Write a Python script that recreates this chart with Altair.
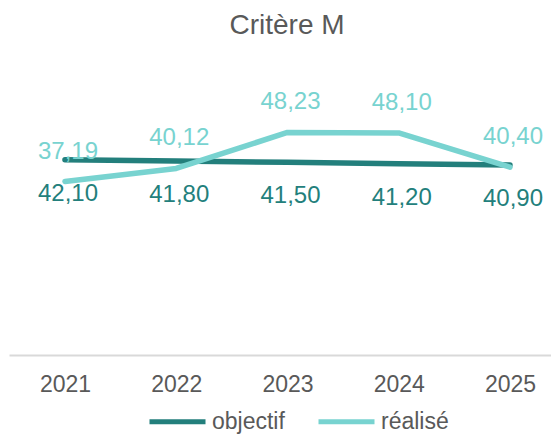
import altair as alt
import pandas as pd

years = ["2021", "2022", "2023", "2024", "2025"]
objectif = [42.10, 41.80, 41.50, 41.20, 40.90]
realise = [37.19, 40.12, 48.23, 48.10, 40.40]
series = ["objectif", "réalisé"]
colors = ["#237f7c", "#78d3d0"]

rows = []
for name, vals in zip(series, [objectif, realise]):
    for y, v in zip(years, vals):
        rows.append({"year": y, "value": v, "series": name,
                     "label": f"{v:.2f}".replace(".", ",")})
df = pd.DataFrame(rows)

FONT = "Liberation Sans"

x_enc = alt.X("year:O", sort=years,
              scale=alt.Scale(type="point", padding=0.436, align=0.577),
              axis=alt.Axis(title=None, labelAngle=0, labelFontSize=23,
                            labelColor="#595959", labelFont=FONT,
                            domainColor="#d9d9d9", domainWidth=2,
                            ticks=False, grid=False, offset=8, labelPadding=18))
y_enc = alt.Y("value:Q", scale=alt.Scale(domain=[0, 60]), axis=None)

base = alt.Chart(df)

lines = base.mark_line(strokeWidth=5.5, strokeCap="round", strokeJoin="round").encode(
    x=x_enc, y=y_enc,
    color=alt.Color("series:N",
                    scale=alt.Scale(domain=series, range=colors),
                    legend=alt.Legend(title=None, orient="none", direction="horizontal",
                                      legendX=138, legendY=311,
                                      symbolType="stroke", symbolStrokeWidth=5,
                                      symbolSize=3136, labelFontSize=23,
                                      labelColor="#595959", labelFont=FONT,
                                      labelOffset=4, columnPadding=23, padding=0)),
    order=alt.Order("series:N"),
)

obj_labels = base.transform_filter(alt.datum.series == "objectif").mark_text(
    fontSize=24, font=FONT, color=colors[0], baseline="alphabetic", dy=41, dx=3
).encode(x=x_enc, y=y_enc, text="label:N")

rea_labels = base.transform_filter(alt.datum.series == "réalisé").mark_text(
    fontSize=24, font=FONT, color=colors[1], baseline="alphabetic", dy=-23, dx=3
).encode(x=x_enc, y=y_enc, text="label:N")

chart = alt.layer(lines, obj_labels, rea_labels).properties(
    width=542, height=267,
    background="white",
    title=alt.Title("Critère M", fontSize=28, color="#595959", font=FONT,
                    fontWeight="normal", anchor="middle", dx=7, offset=18,
                    baseline="alphabetic"),
    autosize=alt.AutoSizeParams(type="none"),
    padding={"left": 1, "top": 72, "right": 0, "bottom": 89},
).configure_view(stroke=None)

chart.save("out.html", embed_options={"renderer": "svg", "actions": False})
